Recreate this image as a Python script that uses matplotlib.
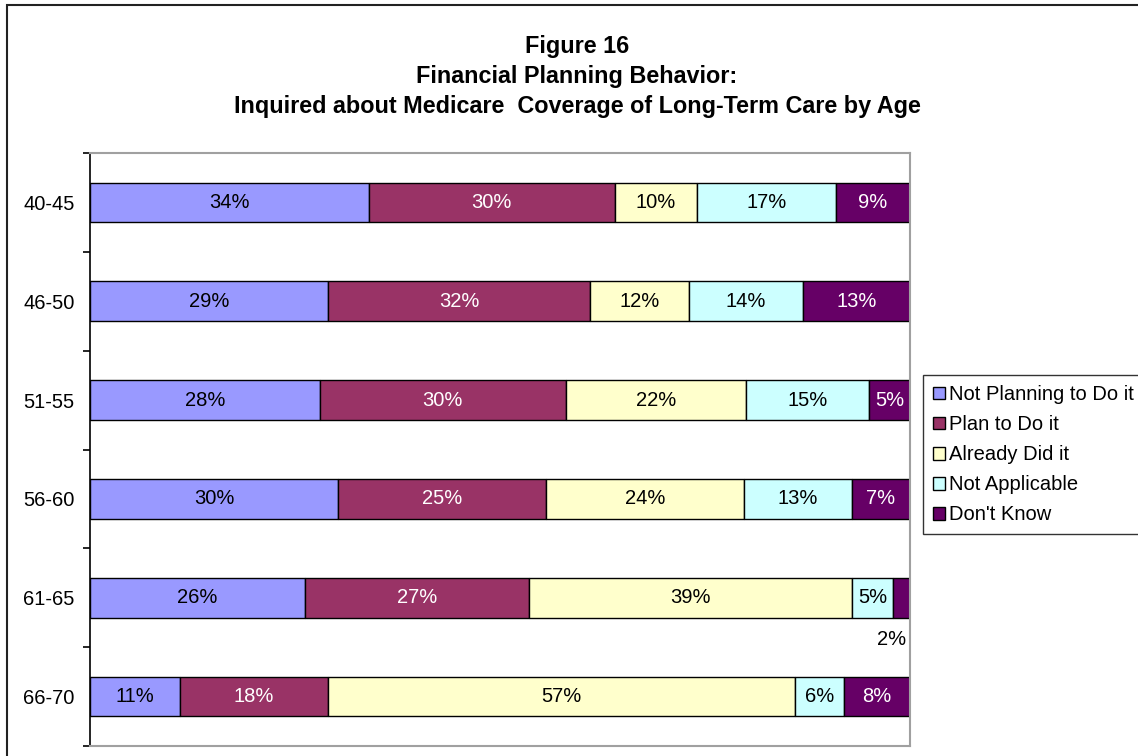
import matplotlib

matplotlib.use("Agg")
import matplotlib.pyplot as plt
import numpy as np
from matplotlib.patches import Rectangle

plt.rcParams["font.family"] = ["Liberation Sans", "DejaVu Sans"]

AGES = ["40-45", "46-50", "51-55", "56-60", "61-65", "66-70"]
SERIES = ["Not Planning to Do it", "Plan to Do it", "Already Did it", "Not Applicable", "Don't Know"]
NOT_PLANNING = [34, 29, 28, 30, 26, 11]
PLAN_TO = [30, 32, 30, 25, 27, 18]
ALREADY_DID = [10, 12, 22, 24, 39, 57]
NOT_APPLICABLE = [17, 14, 15, 13, 5, 6]
DONT_KNOW = [9, 13, 5, 7, 2, 8]

COLORS = ["#9999ff", "#993366", "#ffffcc", "#ccffff", "#660066"]
TEXT_COLORS = ["black", "white", "black", "black", "white"]

TITLE_LINES = [
    "Figure 16",
    "Financial Planning Behavior:",
    "Inquired about Medicare  Coverage of Long-Term Care by Age",
]

FS = 14.5


def main():
    data = np.array([NOT_PLANNING, PLAN_TO, ALREADY_DID, NOT_APPLICABLE, DONT_KNOW], dtype=float)
    shares = data / data.sum(axis=0)  # 100% stacked, like the original

    fig = plt.figure(figsize=(11.38, 7.56), dpi=100)
    ax = fig.add_axes([90 / 1138, 10 / 756, 820 / 1138, 593 / 756])

    y = np.arange(len(AGES))
    left = np.zeros(len(AGES))
    for k, name in enumerate(SERIES):
        ax.barh(y, shares[k], left=left, height=0.4, color=COLORS[k],
                edgecolor="black", linewidth=1.0, label=name)
        for i in range(len(AGES)):
            w = shares[k, i]
            txt = f"{int(data[k, i])}%"
            if w < 0.03:
                # too thin: Excel put this one under the bar
                ax.text(left[i] + w - 0.005, y[i] + 0.42, txt, ha="right", va="center",
                        fontsize=FS, color="black")
            else:
                ax.text(left[i] + w / 2, y[i], txt, ha="center", va="center",
                        fontsize=FS, color=TEXT_COLORS[k])
        left += shares[k]

    ax.set_xlim(0, 1)
    ax.set_ylim(len(AGES) - 0.5, -0.5)
    ax.set_xticks([])
    ax.set_yticks(y)
    ax.set_yticklabels(AGES, fontsize=FS)
    ax.set_yticks(np.arange(len(AGES) + 1) - 0.5, minor=True)
    ax.tick_params(axis="y", which="major", length=0, pad=11)
    ax.tick_params(axis="y", which="minor", length=5, width=1.2, color="black", direction="out")
    for side in ["top", "right", "bottom"]:
        ax.spines[side].set_color("#a0a0a0")
        ax.spines[side].set_linewidth(1.5)
    ax.spines["left"].set_color("black")
    ax.spines["left"].set_linewidth(1.2)

    leg = fig.legend(loc="upper left", bbox_to_anchor=(923 / 1138, 1 - 375 / 756),
                     fontsize=FS, frameon=True, fancybox=False, handlelength=0.6,
                     handleheight=0.6, handletextpad=0.2, labelspacing=0.55,
                     borderpad=0.5, borderaxespad=0)
    leg.get_frame().set_edgecolor("black")
    leg.get_frame().set_linewidth(1.0)

    for j, line in enumerate(TITLE_LINES):
        fig.text(577 / 1138, 1 - (47 + 29.5 * j) / 756, line, ha="center", va="center",
                 fontsize=16.8, fontweight="bold")

    fig.patches.append(Rectangle((7 / 1138, -0.1), 1.2, 1.1 - 5 / 756, transform=fig.transFigure,
                                 fill=False, edgecolor="#222222", linewidth=1.5))

    fig.savefig("out.png", dpi=100)
    plt.close(fig)


if __name__ == "__main__":
    main()
